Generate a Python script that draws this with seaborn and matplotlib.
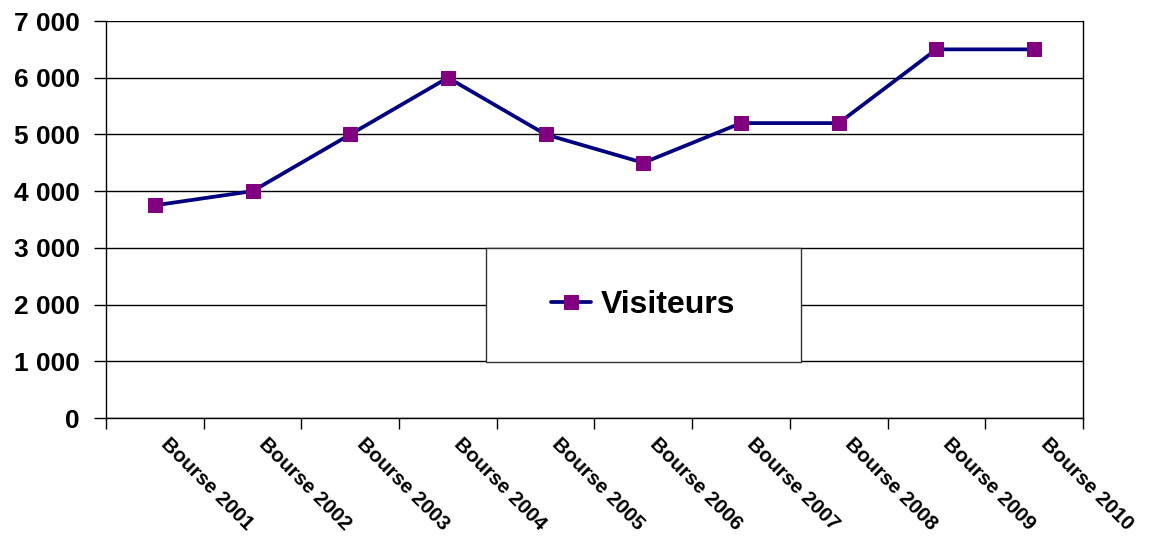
import numpy as np
import pandas as pd
import matplotlib
matplotlib.use('Agg')
import matplotlib.pyplot as plt
import matplotlib.transforms as mtransforms
from matplotlib.patches import Rectangle
from matplotlib.ticker import FuncFormatter, FixedLocator
import seaborn as sns

# Data
categories = ['Bourse 2001', 'Bourse 2002', 'Bourse 2003', 'Bourse 2004', 'Bourse 2005',
              'Bourse 2006', 'Bourse 2007', 'Bourse 2008', 'Bourse 2009', 'Bourse 2010']
visiteurs = [3750, 4000, 5000, 6000, 5000, 4500, 5200, 5200, 6500, 6500]
y_ticks = [0, 1000, 2000, 3000, 4000, 5000, 6000, 7000]

df = pd.DataFrame({'bourse': categories, 'Visiteurs': visiteurs})

sns.set_style('white')
plt.rcParams['font.family'] = ['Liberation Sans', 'DejaVu Sans']
plt.rcParams['text.color'] = 'black'
plt.rcParams['xtick.color'] = 'black'
plt.rcParams['ytick.color'] = 'black'

fig = plt.figure(figsize=(11.51, 5.40), dpi=100)
ax = fig.add_axes([0.0921, 0.2259, 0.8488, 0.7352])

sns.lineplot(data=df, x='bourse', y='Visiteurs', ax=ax, color='#000080', linewidth=2.7,
             marker='s', markersize=10, markerfacecolor='#800080', markeredgecolor='#800080',
             label='Visiteurs', sort=False, zorder=5)

n = len(categories)
ax.set_xlim(-0.5, n - 0.5)
ax.set_ylim(0, 7000)

# y axis
ax.set_yticks(y_ticks)
ax.yaxis.set_major_formatter(FuncFormatter(lambda v, p: f'{int(v):,}'.replace(',', ' ')))
ax.tick_params(axis='y', which='major', left=True, length=9, width=1, color='black',
               labelsize=19, labelcolor='black', pad=10)
for lab in ax.get_yticklabels():
    lab.set_fontweight('bold')
ax.yaxis.grid(True, color='black', linewidth=1)
ax.xaxis.grid(False)
ax.set_axisbelow(True)

# x axis: labels at category centres, ticks at boundaries
ax.set_xticks(range(n))
ax.set_xticklabels(categories, rotation=-45, ha='left', va='top', rotation_mode='anchor',
                   fontsize=14.8, fontweight='bold', color='black')
ax.tick_params(axis='x', which='major', length=0, pad=12)
shift = mtransforms.ScaledTranslation(16 / 100, 0, fig.dpi_scale_trans)
for lab in ax.get_xticklabels():
    lab.set_transform(lab.get_transform() + shift)
ax.xaxis.set_minor_locator(FixedLocator(np.arange(-0.5, n, 1.0)))
ax.tick_params(axis='x', which='minor', bottom=True, length=8, width=1, color='black')
ax.set_xlabel('')
ax.set_ylabel('')

for side in ['left', 'right', 'bottom']:
    ax.spines[side].set_visible(True)
    ax.spines[side].set_color('black')
    ax.spines[side].set_linewidth(1)
ax.spines['top'].set_visible(False)

# legend box
box = Rectangle((0.389, 0.141), 0.322, 0.287, transform=ax.transAxes,
                facecolor='white', edgecolor='#333333', linewidth=1, zorder=3)
ax.add_patch(box)
leg = ax.legend(loc='center', bbox_to_anchor=(0.389, 0.141, 0.322, 0.287),
                frameon=False, prop={'weight': 'bold', 'size': 23},
                handlelength=1.25, handletextpad=0.3, borderpad=0.3)
leg.set_zorder(6)

fig.savefig('out.png', dpi=100, facecolor='white')
